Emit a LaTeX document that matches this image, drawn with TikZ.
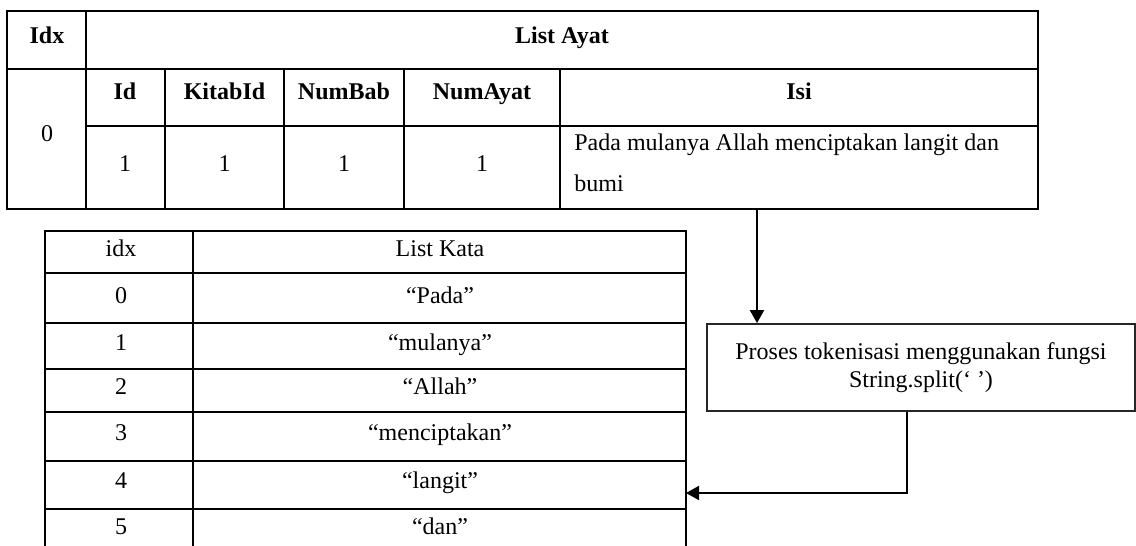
\documentclass[tikz,border=0pt]{standalone}
\usepackage{fontspec}
\setmainfont{Liberation Serif}
\usetikzlibrary{arrows.meta,positioning}

\tikzset{
  tabline/.style={line width=0.6pt},
  celltext/.style={inner sep=0pt, text height=8pt, text depth=0pt, font=\fontsize{12}{14}\selectfont},
  headtext/.style={celltext, font=\fontsize{12}{14}\selectfont\bfseries},
  flowline/.style={line width=1pt, -{Triangle[length=6.5pt,width=7pt]}},
  procbox/.style={draw=black!85, line width=0.9pt, minimum width=214pt, minimum height=43.5pt,
    align=center, inner sep=0pt, font=\fontsize{12}{14}\selectfont}
}

\begin{document}
\begin{tikzpicture}[x=0.5pt,y=-0.5pt]
        \useasboundingbox (0,0) rectangle (1136,546);

        % List Ayat table
        \draw[tabline] (7,11) rectangle (1038,209);
        \draw[tabline] (86,11) -- (86,209); % Idx column
        \draw[tabline] (7,69) -- (1038,69); % header row
        \draw[tabline] (86,126) -- (1038,126); % field names row
        \draw[tabline] (165,69) -- (165,209);
        \draw[tabline] (284,69) -- (284,209);
        \draw[tabline] (404,69) -- (404,209);
        \draw[tabline] (560,69) -- (560,209);

        \node[headtext] (idxhead) at (47,35) {Idx};
        \node[headtext] (ayathead) at (562,35) {List Ayat};
        \node[celltext] (idxzero) at (47,133) {0};

        \node[headtext] (idhead) at (125,91) {Id};
        \node[headtext] (kitabhead) at (224.5,91) {KitabId};
        \node[headtext] (babhead) at (344,91) {NumBab};
        \node[headtext] (numayathead) at (482,91) {NumAyat};
        \node[headtext] (isihead) at (799,91) {Isi};

        \node[celltext] (idval) at (125,163) {1};
        \node[celltext] (kitabval) at (224.5,163) {1};
        \node[celltext] (babval) at (344,163) {1};
        \node[celltext] (numayatval) at (482,163) {1};
        \node[inner sep=0pt, anchor=west, align=left, font=\fontsize{12}{20.5}\selectfont] (isival) at (574,163)
            {Pada mulanya Allah menciptakan langit dan\\bumi};

        % List Kata table (bottom edge runs off the page)
        \draw[tabline] (45,546) -- (45,231) -- (686,231) -- (686,546);
        \draw[tabline] (193,231) -- (193,546);
        \draw[tabline] (45,273) -- (686,273);
        \draw[tabline] (45,323) -- (686,323);
        \draw[tabline] (45,369) -- (686,369);
        \draw[tabline] (45,412) -- (686,412);
        \draw[tabline] (45,461) -- (686,461);
        \draw[tabline] (45,509) -- (686,509);

        \node[celltext] (kidxhead) at (121,248) {idx};
        \node[celltext] (katahead) at (440,248) {List Kata};
        \node[celltext] (kidx0) at (121,295) {0};
        \node[celltext] (kata0) at (440,295) {“Pada”};
        \node[celltext] (kidx1) at (121,342) {1};
        \node[celltext] (kata1) at (440,342) {“mulanya”};
        \node[celltext] (kidx2) at (121,386) {2};
        \node[celltext] (kata2) at (440,386) {“Allah”};
        \node[celltext] (kidx3) at (121,432) {3};
        \node[celltext] (kata3) at (440,432) {“menciptakan”};
        \node[celltext] (kidx4) at (121,480) {4};
        \node[celltext] (kata4) at (440,480) {“langit”};
        \node[celltext] (kidx5) at (121,526) {5};
        \node[celltext] (kata5) at (440,526) {“dan”};

        % Tokenising step
        \node[procbox] (proc) at (921,367.5) {Proses tokenisasi menggunakan fungsi\\String.split(‘ ’)};

        % Arrows
        \coordinate (isiout) at (757,209);
        \coordinate (bend) at (907,493);
        \coordinate (langitin) at (686,493);
        \draw[flowline] (isiout) -- (isiout |- proc.north);
        \draw[flowline] (bend |- proc.south) -- (bend) -- (langitin);

    \end{tikzpicture}
\end{document}
